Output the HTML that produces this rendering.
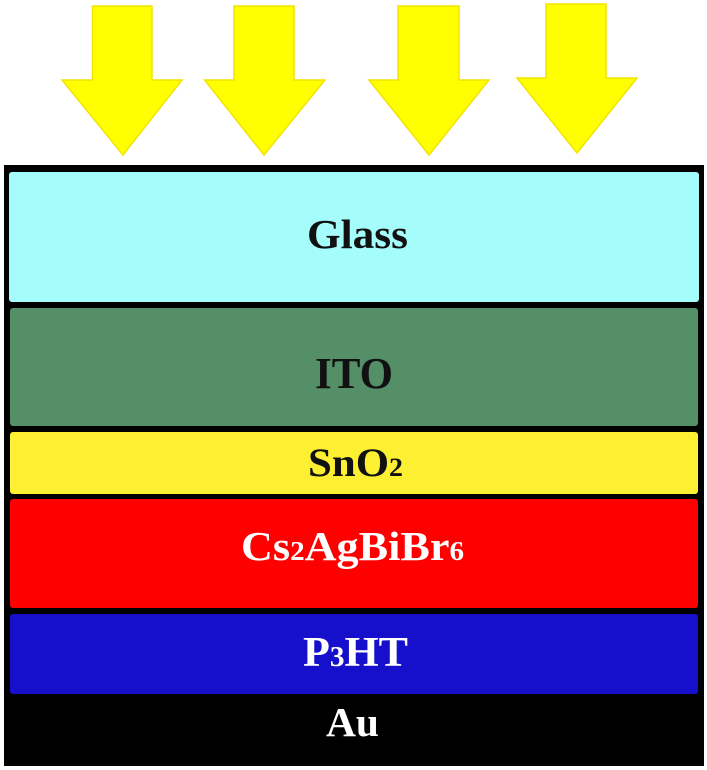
<!DOCTYPE html>
<html><head><meta charset="utf-8"><style>html,body{margin:0;padding:0;background:#fff}svg{display:block}</style></head>
<body>
<svg width="707" height="770" viewBox="0 0 707 770" xmlns="http://www.w3.org/2000/svg" font-family="'Liberation Serif', serif" font-weight="bold">
<g fill="#ffff00" stroke="#f2e400" stroke-width="1.5">
<polygon points="92.5,6 152,6 152,80 182,80 123,155 62,80 92.5,80"/>
<polygon points="234,6 294,6 294,80 325,80 264,155 204.5,80 234,80"/>
<polygon points="398,6 459,6 459,80 489,80 429,155 369,80 398,80"/>
<polygon points="546,4 606,4 606,78 637,78 577,153 517,78 546,78"/>
</g>
<rect x="4" y="165" width="700" height="601" fill="#000"/>
<rect x="9" y="172" width="690" height="130" rx="3" fill="#a5fdfb"/>
<rect x="10" y="308" width="688" height="118" rx="3" fill="#548f68"/>
<rect x="10" y="432" width="688" height="62" rx="3" fill="#fdf032"/>
<rect x="10" y="499" width="688" height="109" rx="3" fill="#fe0000"/>
<rect x="10" y="614" width="688" height="80" rx="3" fill="#1610cc"/>
<text x="307" y="248" font-size="41" textLength="101" lengthAdjust="spacingAndGlyphs" fill="#111">Glass</text>
<text x="315" y="388" font-size="44" textLength="78" lengthAdjust="spacingAndGlyphs" fill="#111">ITO</text>
<text x="308" y="476" font-size="40" textLength="95" lengthAdjust="spacingAndGlyphs" fill="#111">SnO<tspan font-size="26">2</tspan></text>
<text x="241" y="560" font-size="41" textLength="223" lengthAdjust="spacingAndGlyphs" fill="#fff">Cs<tspan font-size="27">2</tspan>AgBiBr<tspan font-size="27">6</tspan></text>
<text x="303" y="666" font-size="42" textLength="105" lengthAdjust="spacingAndGlyphs" fill="#fff">P<tspan font-size="28">3</tspan>HT</text>
<text x="326" y="736" font-size="41" textLength="53" lengthAdjust="spacingAndGlyphs" fill="#fff">Au</text>
</svg>
</body></html>
